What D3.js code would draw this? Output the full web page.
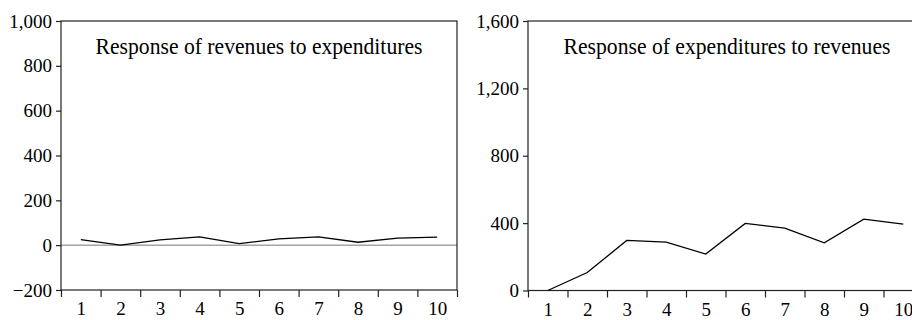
<!DOCTYPE html>
<html>
<head>
<meta charset="utf-8">
<script src="https://cdn.jsdelivr.net/npm/d3@7"></script>
<style>
  body { margin: 0; background: #fff; }
</style>
</head>
<body>
<svg id="chart" width="912" height="320"></svg>
<script>
// periodar (horisont)
const periods = [1, 2, 3, 4, 5, 6, 7, 8, 9, 10];

// respons av inntekter til utgifter
const revToExp = [25, 0, 24, 37, 7, 28, 37, 13, 31, 36];
// respons av utgifter til inntekter
const expToRev = [0, 107, 297, 287, 216, 398, 370, 283, 424, 394];

const leftTicks = [-200, 0, 200, 400, 600, 800, 1000];
const rightTicks = [0, 400, 800, 1200, 1600];

const serif = '"Liberation Serif", "Times New Roman", serif';
const svg = d3.select('#chart');
const fmt = d3.format(',');

function drawPanel(opts) {
  const { left, right, top, bottom, domain, ticks, values, title, titleX, zeroLine } = opts;

  const x = d3.scaleLinear().domain([0.5, 10.5]).range([left, right]);
  const y = d3.scaleLinear().domain(domain).range([bottom, top]);

  const g = svg.append('g');

  // nulllinje
  if (zeroLine) {
    g.append('line')
      .attr('x1', left).attr('x2', right)
      .attr('y1', y(0)).attr('y2', y(0))
      .attr('stroke', '#777').attr('stroke-width', 1);
  }

  // ramme
  g.append('rect')
    .attr('x', left).attr('y', top)
    .attr('width', right - left).attr('height', bottom - top)
    .attr('fill', 'none').attr('stroke', '#222').attr('stroke-width', 1.2);

  // y-akse
  const yAxis = g.append('g')
    .attr('transform', `translate(${left},0)`)
    .call(d3.axisLeft(y).tickValues(ticks).tickFormat(fmt).tickSize(5).tickPadding(4));
  yAxis.select('.domain').remove();
  yAxis.selectAll('line').attr('stroke', '#222').attr('stroke-width', 1.2);
  yAxis.selectAll('text').style('font-family', serif).style('font-size', '19px').attr('fill', '#000');

  // x-akse: strekar mellom periodane
  const bounds = d3.range(0.5, 11, 1);
  const xTicks = g.append('g')
    .attr('transform', `translate(0,${bottom})`)
    .call(d3.axisBottom(x).tickValues(bounds).tickFormat('').tickSize(7));
  xTicks.select('.domain').remove();
  xTicks.selectAll('line').attr('stroke', '#222').attr('stroke-width', 1.2);

  const xLabels = g.append('g')
    .attr('transform', `translate(0,${bottom})`)
    .call(d3.axisBottom(x).tickValues(periods).tickFormat(d3.format('d')).tickSize(0).tickPadding(12));
  xLabels.select('.domain').remove();
  xLabels.selectAll('text').style('font-family', serif).style('font-size', '19px').attr('fill', '#000');

  // linja
  const line = d3.line()
    .x((d, i) => x(periods[i]))
    .y(d => y(d));
  g.append('path')
    .datum(values)
    .attr('d', line)
    .attr('fill', 'none')
    .attr('stroke', '#000')
    .attr('stroke-width', 1.3);

  // tittel, smalna horisontalt som i originalen
  const t = g.append('text')
    .attr('text-anchor', 'middle')
    .style('font-family', serif)
    .style('font-size', '24px')
    .attr('fill', '#000')
    .text(title);
  const k = 327 / t.node().getComputedTextLength();
  t.attr('transform', `translate(${titleX},${top + 33}) scale(${k},1)`);
}

drawPanel({
  left: 61, right: 457, top: 21, bottom: 290,
  domain: [-200, 1000], ticks: leftTicks, values: revToExp,
  title: 'Response of revenues to expenditures', titleX: 259, zeroLine: true
});

drawPanel({
  left: 528, right: 923, top: 21, bottom: 290.5,
  domain: [0, 1600], ticks: rightTicks, values: expToRev,
  title: 'Response of expenditures to revenues', titleX: 727, zeroLine: false
});
</script>
</body>
</html>
